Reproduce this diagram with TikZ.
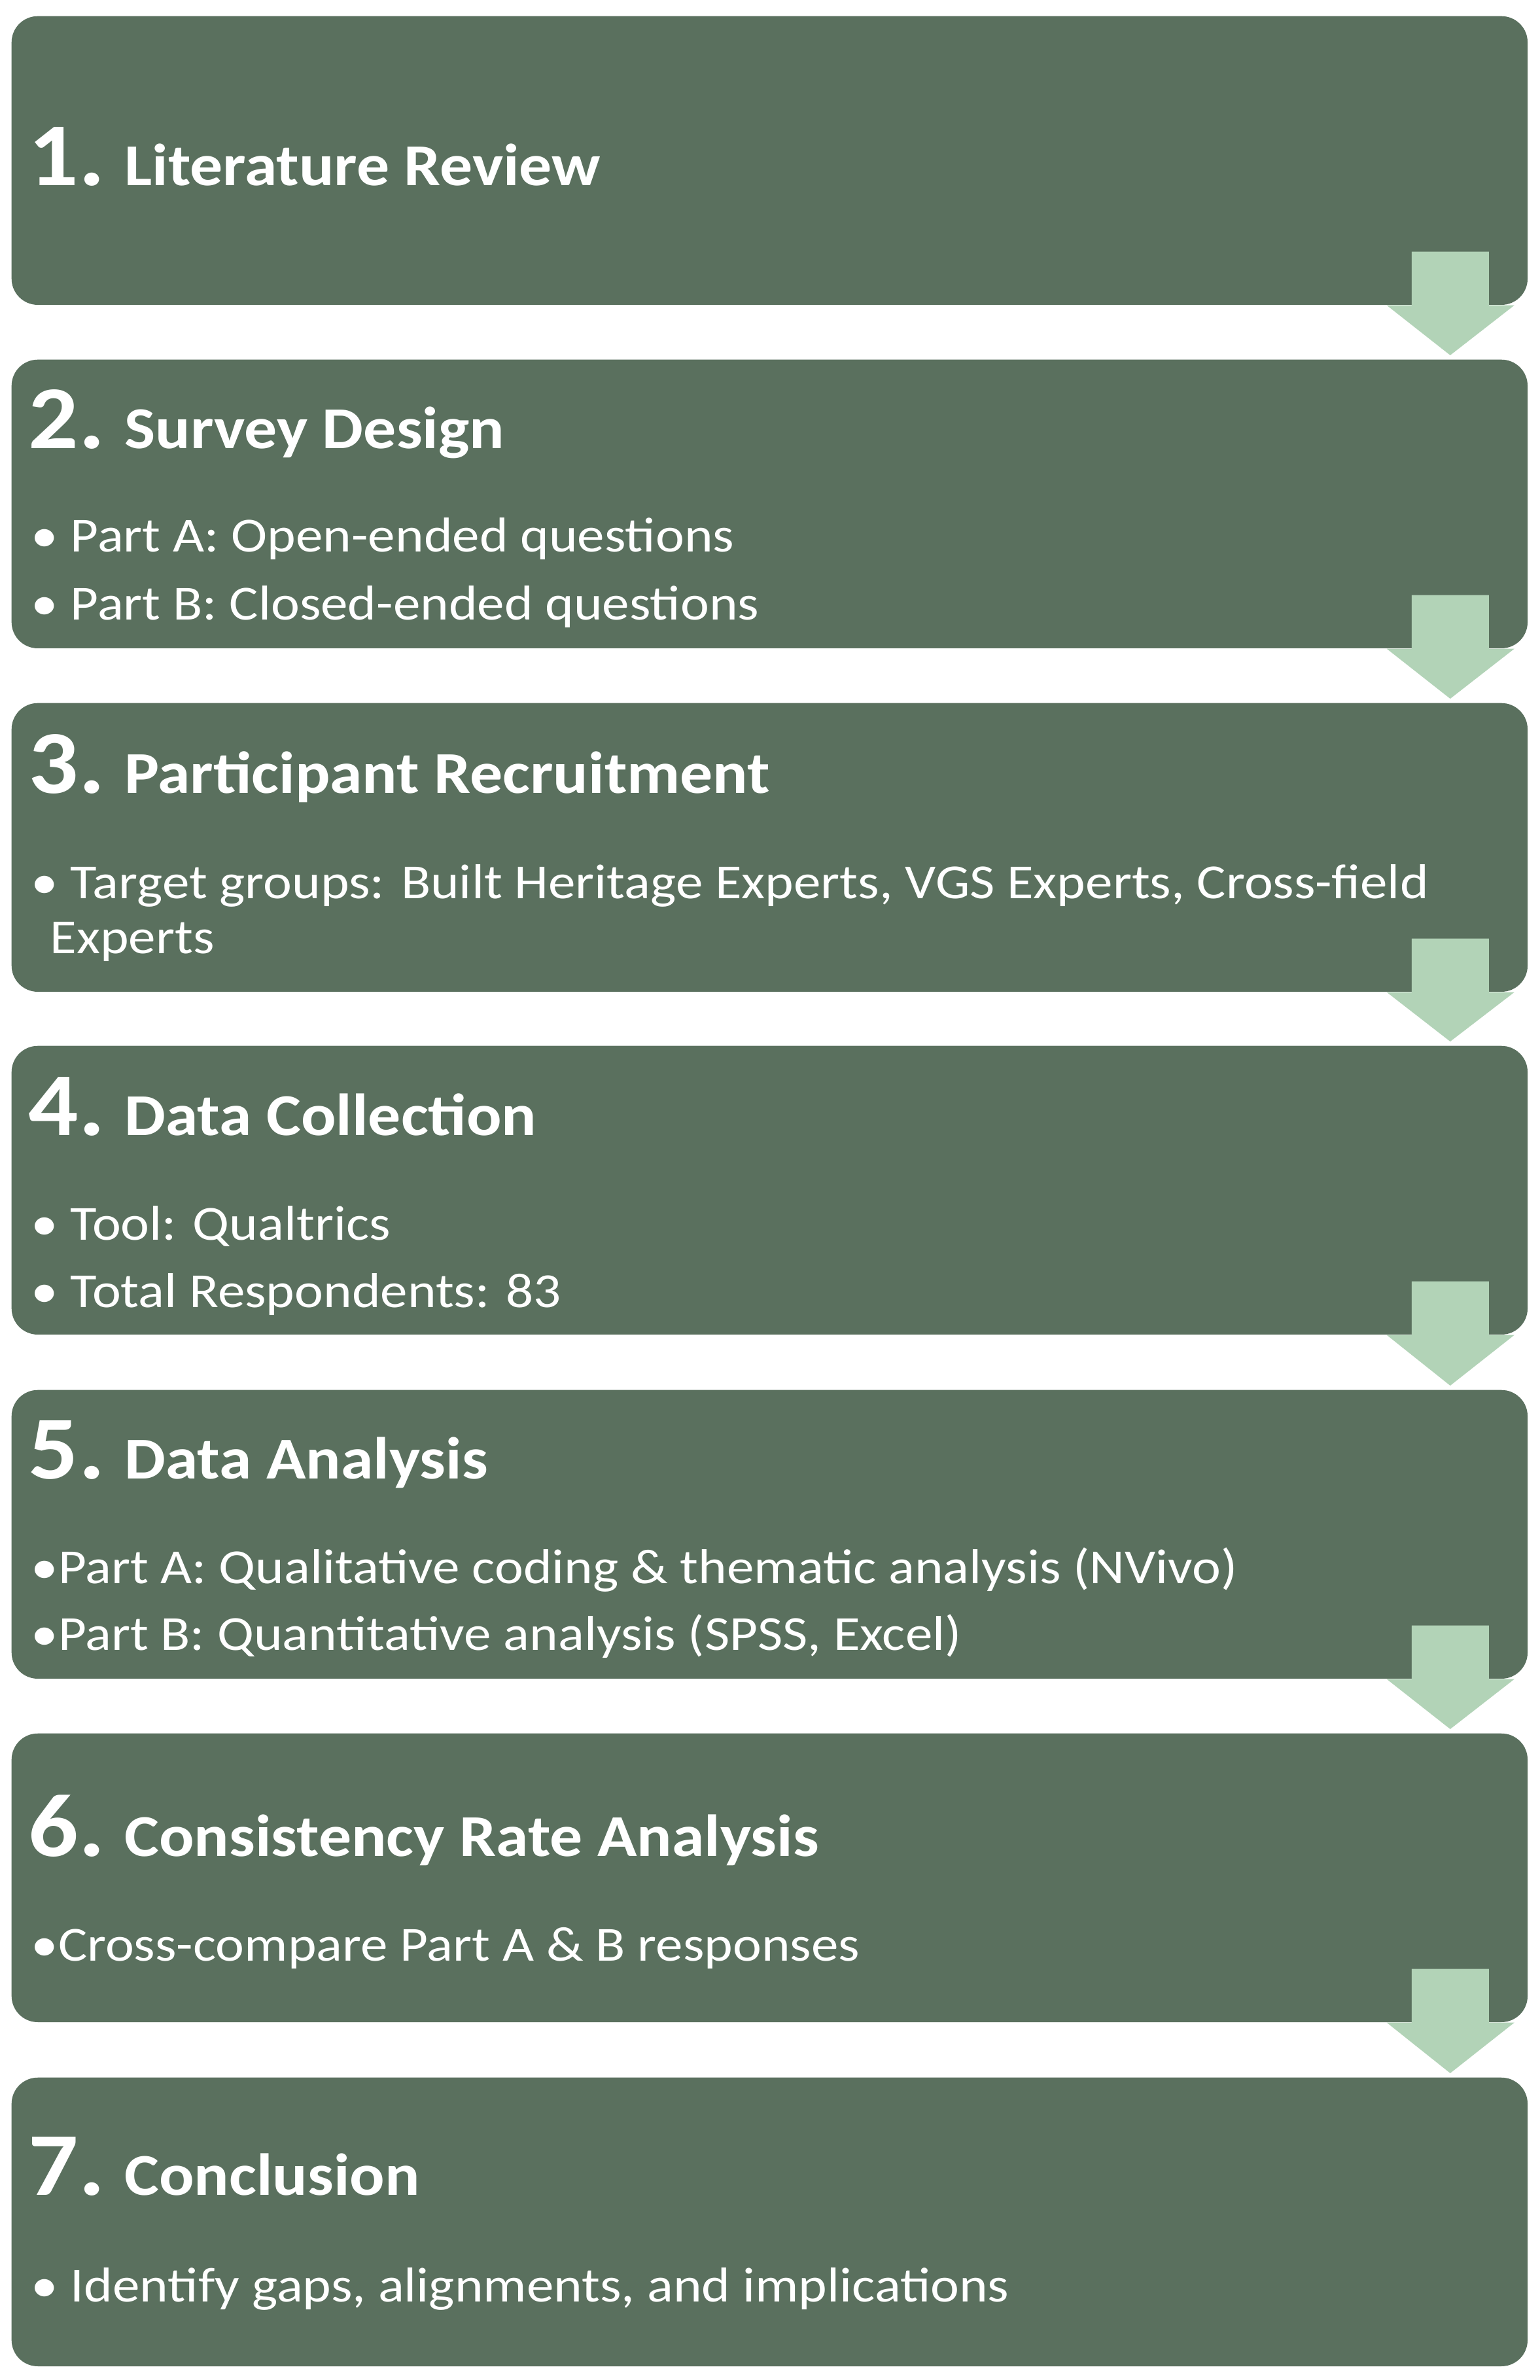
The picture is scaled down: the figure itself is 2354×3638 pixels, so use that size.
\documentclass[tikz,border=0pt]{standalone}
\usepackage{fontspec}
\setmainfont{Carlito}[FakeStretch=1.1]
\newfontfamily\stagebodyfont{Carlito}[FakeStretch=1.11]
\usetikzlibrary{calc}
\definecolor{boxgreen}{HTML}{5A705E}
\definecolor{arrowgreen}{HTML}{B2D3B7}
\tikzset{
  stagebox/.style={fill=boxgreen, draw=none, rounded corners=0.4cm, minimum width=23.16cm, minimum height=4.41cm, inner sep=0pt, anchor=north west},
  titletext/.style={text=white, anchor=base west, inner sep=0pt, font=\bfseries\fontsize{25.8}{30}\selectfont},
  bullettext/.style={text=white, anchor=base west, inner sep=0pt, font=\stagebodyfont\fontsize{21.3}{26}\selectfont},
  flowarrow/.style={fill=arrowgreen, draw=none},
}
\newcommand{\stagenum}[1]{{\fontsize{39}{44}\selectfont #1}\hspace{0.3cm}}
\begin{document}
\begin{tikzpicture}[x=0.01cm, y=-0.01cm]
\path[use as bounding box, fill=white] (0,0) rectangle (2354,3638);
% boxes
\node[stagebox] (box1) at (17,24) {};
\node[stagebox] (box2) at (17,549) {};
\node[stagebox] (box3) at (17,1074) {};
\node[stagebox] (box4) at (17,1598) {};
\node[stagebox] (box5) at (17,2124) {};
\node[stagebox] (box6) at (17,2649) {};
\node[stagebox] (box7) at (17,3175) {};
% arrows
\foreach \a/\b in {box1/box2, box2/box3, box3/box4, box4/box5, box5/box6, box6/box7} {
  \fill[flowarrow] ($(\a.south east)+(-178,-82)$) -- ($(\a.south east)+(-60,-82)$)
    -- ($(\a.south east)+(-60,0)$) -- ($(\a.south east)+(-21,0)$)
    -- ($(\b.north east)+(-119,-6)$)
    -- ($(\a.south east)+(-216,0)$) -- ($(\a.south east)+(-178,0)$) -- cycle;
}
% titles
\node[titletext] (t1) at ($(box1.north west)+(26,259)$) {\stagenum{1.}Literature Review};
\node[titletext] (t2) at ($(box2.north west)+(26,136)$) {\stagenum{2.}Survey Design};
\node[titletext] (t3) at ($(box3.north west)+(26,138)$) {\stagenum{3.}Participant Recruitment};
\node[titletext] (t4) at ($(box4.north west)+(26,137)$) {\stagenum{4.}Data Collection};
\node[titletext] (t5) at ($(box5.north west)+(26,136)$) {\stagenum{5.}Data Analysis};
\node[titletext] (t6) at ($(box6.north west)+(26,188)$) {\stagenum{6.}Consistency Rate Analysis};
\node[titletext] (t7) at ($(box7.north west)+(26,180)$) {\stagenum{7.}Conclusion};
% bullets
\node[bullettext] (b2a) at ($(box2.north west)+(30,294)$) {• Part A: Open-ended questions};
\node[bullettext] (b2b) at ($(box2.north west)+(30,398)$) {• Part B: Closed-ended questions};
\node[bullettext] (b3a) at ($(box3.north west)+(30,299)$) {• Target groups: Built Heritage Experts, VGS Experts, Cross-field};
\node[bullettext] (b3b) at ($(box3.north west)+(59,383)$) {Experts};
\node[bullettext] (b4a) at ($(box4.north west)+(30,297)$) {• Tool: Qualtrics};
\node[bullettext] (b4b) at ($(box4.north west)+(30,400)$) {• Total Respondents: 83};
\node[bullettext] (b5a) at ($(box5.north west)+(30,296)$) {•Part A: Qualitative coding \& thematic analysis (NVivo)};
\node[bullettext] (b5b) at ($(box5.north west)+(30,398)$) {•Part B: Quantitative analysis (SPSS, Excel)};
\node[bullettext] (b6a) at ($(box6.north west)+(30,348)$) {•Cross-compare Part A \& B responses};
\node[bullettext] (b7a) at ($(box7.north west)+(30,343)$) {• Identify gaps, alignments, and implications};
\end{tikzpicture}
\end{document}
